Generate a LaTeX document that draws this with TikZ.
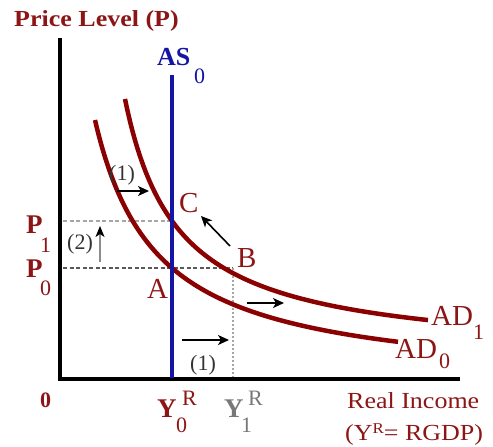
\documentclass[tikz,border=0pt]{standalone}
\usepackage{fontspec}
\usepackage{graphicx}
\setmainfont{Liberation Serif}
\usetikzlibrary{arrows.meta}
\definecolor{adred}{RGB}{139,0,0}
\definecolor{txtred}{RGB}{140,22,22}
\definecolor{asblue}{RGB}{20,20,165}
\definecolor{ygray}{RGB}{120,120,120}
\newcommand{\fs}[1]{\fontsize{#1}{#1}\selectfont}
\newcommand{\wide}[1]{\scalebox{1.13}[1]{#1}}
\tikzset{
  axisline/.style={line width=3.8pt, black},
  adcurve/.style={line width=4.5pt, adred},
  asline/.style={line width=3.5pt, asblue},
  lbl/.style={inner sep=0pt, anchor=base west},
  biglbl/.style={lbl, font=\fs{29}, txtred},
  sublbl/.style={lbl, font=\fs{22}},
  smalllbl/.style={inner sep=0pt, font=\fs{22}, black!80},
  shiftarrow/.style={line width=1.6pt, black, -{Stealth[length=11pt,width=10pt,inset=3pt]}},
  guide/.style={line width=1.3pt, dash pattern=on 4pt off 2.5pt}
}
\begin{document}
\begin{tikzpicture}[x=1pt,y=-1pt]
\useasboundingbox (0,0) rectangle (493,447);
% axes
\coordinate (O) at (60,379);
\coordinate (ytop) at (60,38);
\coordinate (xend) at (460,379);
\draw[axisline] (ytop) -- (60,381) (58,379) -- (xend);
% guide lines
\coordinate (P1l) at (63,221);
\coordinate (C) at (172,221);
\coordinate (P0l) at (63,268);
\coordinate (A) at (172,268);
\coordinate (B) at (233,268);
\coordinate (Y1b) at (233,377);
\draw[guide, black!35] (P1l) -- (C);
\draw[guide, black!65] (P0l) -- (B);
\draw[line width=1.6pt, black!35, dash pattern=on 2pt off 2pt] (B) -- (Y1b);
% AD curves
\draw[adcurve] plot[domain=95:398, samples=150] (\x, {387.2-165.64*(100/(\x-33))});
\draw[adcurve] plot[domain=125:428, samples=150] (\x, {358.8-137.97*(100/(\x-71.9))});
% AS line
\coordinate (AStop) at (172,75);
\coordinate (ASbot) at (172,378);
\draw[asline] (AStop) -- (ASbot);
% arrows
\coordinate (a1s) at (117,191); \coordinate (a1e) at (149,191);
\draw[shiftarrow] (a1s) -- (a1e);
\coordinate (a2s) at (230,246); \coordinate (a2e) at (201,216);
\draw[shiftarrow] (a2s) -- (a2e);
\coordinate (a3s) at (247,303); \coordinate (a3e) at (284,303);
\draw[shiftarrow] (a3s) -- (a3e);
\coordinate (a4s) at (182,340); \coordinate (a4e) at (229,340);
\draw[shiftarrow] (a4s) -- (a4e);
\coordinate (a5s) at (100,262); \coordinate (a5e) at (100,226);
\draw[line width=1.8pt, black!45, -{Stealth[length=11pt,width=9pt,inset=3pt,color=black]}] (a5s) -- (a5e);
% small labels
\node[smalllbl] (n1a) at (122,175) {(1)};
\node[smalllbl] (n2) at (80,244) {(2)};
\node[smalllbl] (n1b) at (203,365) {(1)};
% axis titles
\node[lbl, font=\fs{23}\bfseries, txtred] (ptitle) at (14,27) {\wide{Price Level (P)}};
\node[lbl, font=\fs{23}, txtred] (xtitle1) at (347,408) {\wide{Real Income}};
\node[lbl, font=\fs{23}, txtred] (xtitle2) at (345,440) {\wide{(Y\raisebox{7pt}{\fs{15}R}= RGDP)}};
% AS label
\node[lbl, font=\fs{26}\bfseries, asblue] (asl) at (157,65) {AS};
\node[sublbl, asblue] (asl0) at (194,83) {0};
% P labels
\node[lbl, font=\fs{27}\bfseries, txtred] (p1) at (26,233) {P};
\node[sublbl, txtred] (p1s) at (40,252) {1};
\node[lbl, font=\fs{27}\bfseries, txtred] (p0) at (26,277) {P};
\node[sublbl, txtred] (p0s) at (40,295) {0};
% origin
\node[lbl, font=\fs{22}\bfseries, txtred] (orig) at (40,407) {0};
% point labels
\node[biglbl] (lA) at (147,298) {A};
\node[biglbl] (lC) at (179,212) {C};
\node[biglbl] (lB) at (237,267) {B};
% AD labels
\node[biglbl] (ad1) at (431,325) {AD};
\node[sublbl, txtred] (ad1s) at (473,339) {1};
\node[biglbl] (ad0) at (395,358) {AD};
\node[sublbl, txtred] (ad0s) at (439,368) {0};
% Y labels
\node[lbl, font=\fs{27}\bfseries, txtred] (y0) at (157,417) {Y};
\node[sublbl, txtred] (y0s) at (176,432) {0};
\node[sublbl, txtred] (y0r) at (182,405) {R};
\node[lbl, font=\fs{27}\bfseries, ygray] (y1) at (224,417) {Y};
\node[sublbl, ygray] (y1s) at (241,432) {1};
\node[sublbl, ygray] (y1r) at (248,405) {R};
\end{tikzpicture}
\end{document}
